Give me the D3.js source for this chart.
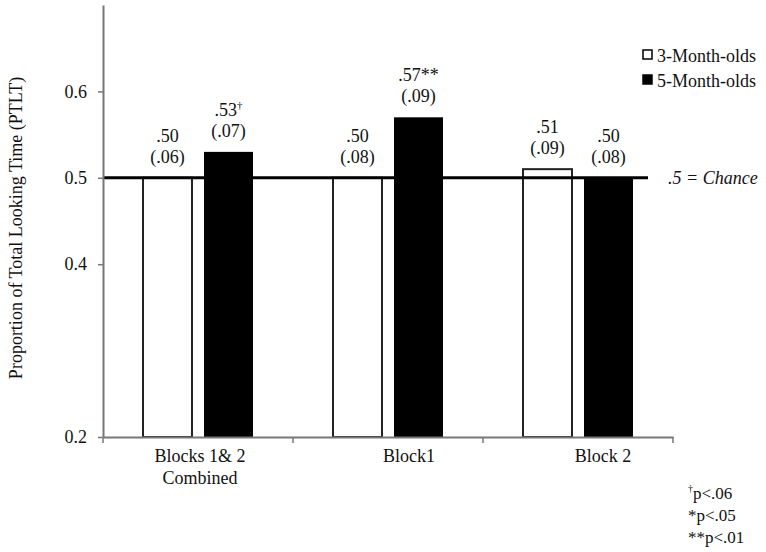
<!DOCTYPE html>
<html>
<head>
<meta charset="utf-8">
<script src="https://cdn.jsdelivr.net/npm/d3@7"></script>
<style>
    body { margin: 0; background: #fff; }
    svg text { font-family: "Liberation Serif", "Times New Roman", serif; fill: #111; }
</style>
</head>
<body>
<div id="chart"></div>
<script>
// data
var categories = ["Blocks 1& 2 Combined", "Block1", "Block 2"];
var categoryLines = [["Blocks 1& 2", "Combined"], ["Block1"], ["Block 2"]];
var groups = ["3-Month-olds", "5-Month-olds"];
var threeMonth = [0.50, 0.50, 0.51];
var fiveMonth = [0.53, 0.57, 0.50];
var threeMonthSD = [".06", ".08", ".09"];
var fiveMonthSD = [".07", ".09", ".08"];
var threeMonthSig = ["", "", ""];
var fiveMonthSig = ["\u2020", "**", ""];
var yTicks = [0.2, 0.4, 0.5, 0.6];
var chance = 0.5;
var footnotes = [["\u2020", "p<.06"], ["", "*p<.05"], ["", "**p<.01"]];

var width = 766, height = 552;
var svg = d3.select("#chart").append("svg")
    .attr("width", width)
    .attr("height", height);

var y = d3.scaleLinear().domain([0.2, 0.7]).range([437, 5]);
var x = d3.scaleBand().domain(categories).range([103, 673]).padding(0);
var xSub = d3.scaleBand().domain(groups).range([40, 150]).paddingInner(0.197);

var fill = { "3-Month-olds": "#fff", "5-Month-olds": "#000" };

// build rows for bars
var bars = [];
categories.forEach(function (c, i) {
    bars.push({ cat: c, grp: groups[0], v: threeMonth[i], sd: threeMonthSD[i], sig: threeMonthSig[i] });
    bars.push({ cat: c, grp: groups[1], v: fiveMonth[i], sd: fiveMonthSD[i], sig: fiveMonthSig[i] });
});

svg.selectAll("rect.bar")
    .data(bars)
    .enter()
    .append("rect")
    .attr("class", "bar")
    .attr("x", function (d) { return x(d.cat) + xSub(d.grp); })
    .attr("y", function (d) { return y(d.v); })
    .attr("width", xSub.bandwidth())
    .attr("height", function (d) { return y(0.2) - y(d.v); })
    .attr("fill", function (d) { return fill[d.grp]; })
    .attr("stroke", function (d) { return d.grp === groups[0] ? "#222" : "none"; })
    .attr("stroke-width", 2);

// chance line
svg.append("line")
    .attr("x1", x.range()[0])
    .attr("x2", x.range()[1] - 25)
    .attr("y1", y(chance))
    .attr("y2", y(chance))
    .attr("stroke", "#000")
    .attr("stroke-width", 3);

svg.append("text")
    .attr("x", 668)
    .attr("y", y(chance) + 6)
    .attr("font-size", 18)
    .attr("font-style", "italic")
    .text(".5 = Chance");

// value labels
var fmt = function (v) { return d3.format(".2f")(v).replace(/^0/, ""); };
var labels = svg.selectAll("g.vlabel")
    .data(bars)
    .enter()
    .append("g")
    .attr("class", "vlabel")
    .attr("transform", function (d) {
        return "translate(" + (x(d.cat) + xSub(d.grp) + xSub.bandwidth() / 2) + "," + (y(d.v) - 15) + ")";
    });

var meanText = labels.append("text")
    .attr("y", -21)
    .attr("text-anchor", "middle")
    .attr("font-size", 18);
meanText.append("tspan").text(function (d) { return fmt(d.v); });
meanText.append("tspan")
    .attr("font-size", function (d) { return d.sig === "\u2020" ? 11 : 18; })
    .attr("dy", function (d) { return d.sig === "\u2020" ? -7 : 0; })
    .text(function (d) { return d.sig; });

labels.append("text")
    .attr("text-anchor", "middle")
    .attr("font-size", 18)
    .text(function (d) { return "(" + d.sd + ")"; });

// axes
var yAxis = d3.axisLeft(y).tickValues(yTicks).tickFormat(d3.format(".1f")).tickSize(5).tickPadding(11).tickSizeOuter(0);
var gy = svg.append("g").attr("transform", "translate(103,0)").call(yAxis);
gy.select(".domain").attr("stroke", "#777").attr("stroke-width", 2);
gy.selectAll(".tick line").attr("stroke", "#777").attr("stroke-width", 1.5);
gy.selectAll(".tick text")
    .attr("font-size", 18)
    .attr("font-family", "Liberation Serif, serif")
    .attr("fill", "#111");

var xAxis = d3.axisBottom(x).tickValues([]).tickSizeOuter(0);
var gx = svg.append("g").attr("transform", "translate(0," + y(0.2) + ")").call(xAxis);
gx.select(".domain").attr("stroke", "#777").attr("stroke-width", 2);

// tick marks between categories
var bounds = categories.map(function (c) { return x(c); }).concat([x.range()[1]]);
gx.selectAll("line.sep")
    .data(bounds)
    .enter()
    .append("line")
    .attr("class", "sep")
    .attr("x1", function (d) { return d; })
    .attr("x2", function (d) { return d; })
    .attr("y1", 0)
    .attr("y2", 6)
    .attr("stroke", "#777")
    .attr("stroke-width", 1.5);

// category labels (nudged as in the original)
var labelDx = [2, 21, 25];
var cat = svg.selectAll("text.cat")
    .data(categories)
    .enter()
    .append("text")
    .attr("class", "cat")
    .attr("text-anchor", "middle")
    .attr("font-size", 18)
    .attr("transform", function (d, i) {
        return "translate(" + (x(d) + x.bandwidth() / 2 + labelDx[i]) + "," + (y(0.2) + 25) + ")";
    });
cat.selectAll("tspan")
    .data(function (d, i) { return categoryLines[i]; })
    .enter()
    .append("tspan")
    .attr("x", 0)
    .attr("dy", function (d, i) { return i === 0 ? 0 : 22; })
    .text(function (d) { return d; });

// y axis title
svg.append("text")
    .attr("transform", "translate(22,228) rotate(-90)")
    .attr("text-anchor", "middle")
    .attr("font-size", 18)
    .text("Proportion of Total Looking Time (PTLT)");

// legend
var legend = svg.selectAll("g.legend")
    .data(groups)
    .enter()
    .append("g")
    .attr("class", "legend")
    .attr("transform", function (d, i) { return "translate(643," + (50 + i * 25) + ")"; });
legend.append("rect")
    .attr("width", 9)
    .attr("height", 9)
    .attr("fill", function (d) { return fill[d]; })
    .attr("stroke", "#000")
    .attr("stroke-width", 1.5);
legend.append("text")
    .attr("x", 14)
    .attr("y", 12)
    .attr("font-size", 18)
    .text(function (d) { return d; });

// footnotes
var notes = svg.selectAll("text.note")
    .data(footnotes)
    .enter()
    .append("text")
    .attr("class", "note")
    .attr("x", 688)
    .attr("y", function (d, i) { return 499 + i * 22; })
    .attr("font-size", 17);
notes.append("tspan")
    .attr("font-size", 10)
    .attr("dy", -7)
    .text(function (d) { return d[0]; });
notes.append("tspan")
    .attr("dy", function (d) { return d[0] ? 7 : 0; })
    .text(function (d) { return d[1]; });
</script>
</body>
</html>
